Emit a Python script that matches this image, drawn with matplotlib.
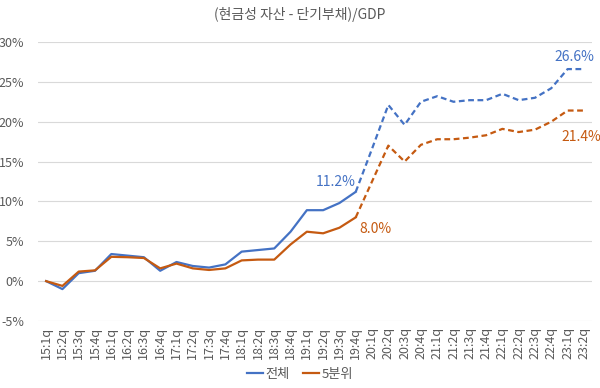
import matplotlib
matplotlib.use("Agg")
import matplotlib.pyplot as plt

plt.rcParams['font.family'] = ['Noto Sans CJK KR', 'DejaVu Sans']

# quarters 2015Q1 .. 2023Q2
quarters = [f"{y}:{q}q" for y in range(15, 24) for q in range(1, 5)][:34]

# (cash assets - short-term debt) / GDP, %
total = [0.0, -1.0, 1.0, 1.3, 3.4, 3.2, 3.0, 1.3, 2.4, 1.9, 1.7, 2.1,
         3.7, 3.9, 4.1, 6.2, 8.9, 8.9, 9.8, 11.2, 16.6, 22.1, 19.6, 22.5,
         23.2, 22.5, 22.7, 22.7, 23.5, 22.7, 23.0, 24.2, 26.6, 26.6]
q5 = [0.0, -0.6, 1.2, 1.35, 3.05, 3.0, 2.9, 1.6, 2.2, 1.6, 1.4, 1.6,
      2.6, 2.7, 2.7, 4.6, 6.2, 6.0, 6.7, 8.0, 12.5, 17.0, 15.0, 17.1,
      17.8, 17.8, 18.0, 18.3, 19.1, 18.7, 19.0, 20.0, 21.4, 21.4]
series_names = ["전체", "5분위"]

BLUE = "#4472C4"
ORANGE = "#C55A11"
GRAY = "#595959"

fig = plt.figure(figsize=(6, 3.88), dpi=100)
ax = fig.add_axes([0.0633, 0.1727, 0.9234, 0.7191])

x = list(range(len(quarters)))
split = 19  # solid until 19:4q, dashed after

for vals, color, name in [(total, BLUE, series_names[0]), (q5, ORANGE, series_names[1])]:
    ax.plot(x[:split + 1], vals[:split + 1], color=color, lw=1.6, label=name)
    ax.plot(x[split:], vals[split:], color=color, lw=1.6, ls=(0, (2.6, 1.6)))

# value labels
ax.annotate(f"{total[19]:.1f}%", (19, total[19]), xytext=(-20, 10),
            textcoords='offset pixels', ha='center', va='center', color=BLUE, fontsize=10)
ax.annotate(f"{q5[19]:.1f}%", (19, q5[19]), xytext=(20, -12),
            textcoords='offset pixels', ha='center', va='center', color=ORANGE, fontsize=10)
ax.annotate(f"{total[32]:.1f}%", (32, total[32]), xytext=(7, 12),
            textcoords='offset pixels', ha='center', va='center', color=BLUE, fontsize=10)
ax.annotate(f"{q5[33]:.1f}%", (33, q5[33]), xytext=(-3, -26),
            textcoords='offset pixels', ha='center', va='center', color=ORANGE, fontsize=10)

ax.set_xlim(-0.5, len(quarters) - 0.5)
ax.set_ylim(-5, 30)
ax.set_yticks(range(-5, 31, 5))
ax.set_yticklabels([f"{v}%" for v in range(-5, 31, 5)])
ax.set_xticks(x)
ax.set_xticklabels(quarters, rotation=90)
ax.tick_params(axis='both', length=0, colors=GRAY, labelsize=9)
ax.tick_params(axis='y', pad=10)
ax.tick_params(axis='x', pad=4)

ax.grid(axis='y', color='#D9D9D9', lw=0.8)
ax.set_axisbelow(True)
for s in ax.spines.values():
    s.set_visible(False)

fig.text(0.5, 0.963, "(현금성 자산 - 단기부채)/GDP", ha='center', va='center',
         color=GRAY, fontsize=10)

fig.legend(handles=ax.get_lines()[::2], labels=series_names, loc='center',
           bbox_to_anchor=(0.5, 0.036), ncol=2, frameon=False, fontsize=9.5,
           handlelength=1.2, handletextpad=0.2, columnspacing=1.0, labelcolor=GRAY)

fig.savefig("out.png", dpi=100)
